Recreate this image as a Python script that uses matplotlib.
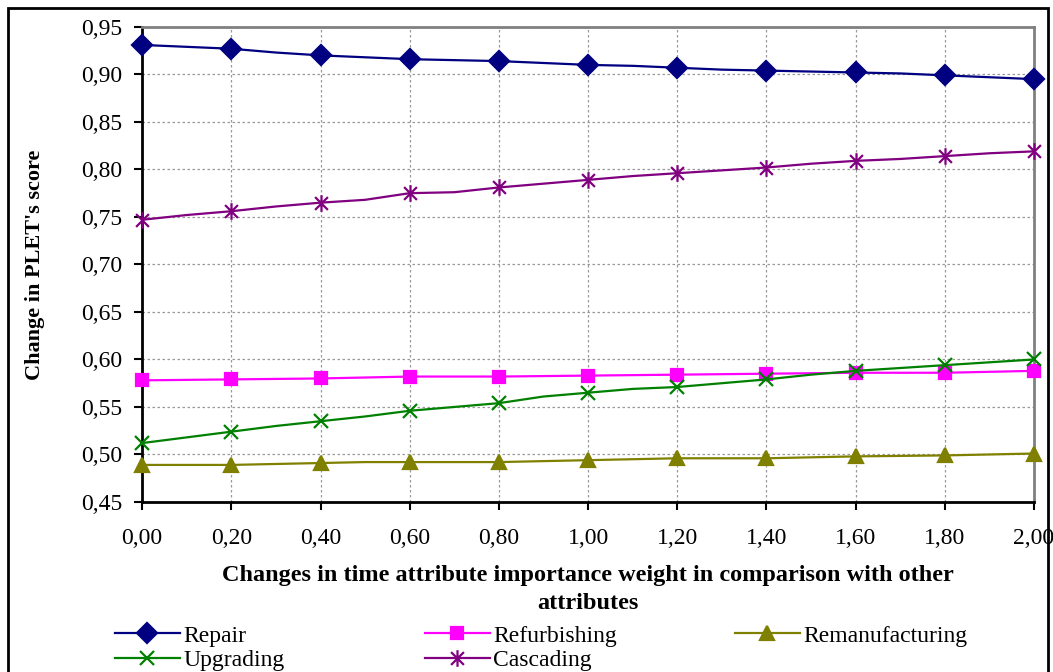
import matplotlib
matplotlib.use("Agg")
import matplotlib.pyplot as plt
from matplotlib.path import Path
from matplotlib.patches import Rectangle

plt.rcParams['font.family'] = ['Liberation Serif', 'DejaVu Serif']

# weights 0.0 .. 2.0 step 0.1 (markers only every 0.2)
weights = [0.0, 0.1, 0.2, 0.3, 0.4, 0.5, 0.6, 0.7, 0.8, 0.9, 1.0,
           1.1, 1.2, 1.3, 1.4, 1.5, 1.6, 1.7, 1.8, 1.9, 2.0]
repair = [0.931, 0.929, 0.927, 0.923, 0.920, 0.918, 0.916, 0.915, 0.914, 0.912, 0.910,
          0.909, 0.907, 0.905, 0.904, 0.903, 0.902, 0.901, 0.899, 0.897, 0.895]
refurbishing = [0.578, 0.5785, 0.579, 0.5795, 0.580, 0.581, 0.582, 0.582, 0.582, 0.5825, 0.583,
                0.5835, 0.584, 0.5845, 0.585, 0.5855, 0.586, 0.586, 0.586, 0.587, 0.588]
remanufacturing = [0.489, 0.489, 0.489, 0.490, 0.491, 0.492, 0.492, 0.492, 0.492, 0.493, 0.494,
                   0.495, 0.496, 0.496, 0.496, 0.497, 0.498, 0.4985, 0.499, 0.500, 0.501]
upgrading = [0.512, 0.518, 0.524, 0.530, 0.535, 0.540, 0.546, 0.550, 0.554, 0.561, 0.565,
             0.569, 0.571, 0.575, 0.579, 0.584, 0.588, 0.591, 0.594, 0.597, 0.600]
cascading = [0.747, 0.752, 0.756, 0.761, 0.765, 0.768, 0.775, 0.776, 0.781, 0.785, 0.789,
             0.793, 0.796, 0.799, 0.802, 0.806, 0.809, 0.811, 0.814, 0.817, 0.819]

x_ticks = [0.0, 0.2, 0.4, 0.6, 0.8, 1.0, 1.2, 1.4, 1.6, 1.8, 2.0]
x_labels = ["0,00", "0,20", "0,40", "0,60", "0,80", "1,00", "1,20", "1,40", "1,60", "1,80", "2,00"]
y_ticks = [0.45, 0.50, 0.55, 0.60, 0.65, 0.70, 0.75, 0.80, 0.85, 0.90, 0.95]
y_labels = ["0,45", "0,50", "0,55", "0,60", "0,65", "0,70", "0,75", "0,80", "0,85", "0,90", "0,95"]

# excel style asterisk: x plus vertical bar
asterisk = Path([(-1, -1), (1, 1), (-1, 1), (1, -1), (0, -1.3), (0, 1.3)],
                [Path.MOVETO, Path.LINETO, Path.MOVETO, Path.LINETO, Path.MOVETO, Path.LINETO])

fig = plt.figure(figsize=(10.53, 6.72), dpi=100)
ax = fig.add_axes([0.135, 0.253, 0.847, 0.707])

lines = {}
series = [
    ("Repair", repair, "#000080", "D", 10),
    ("Refurbishing", refurbishing, "#FF00FF", "s", 9),
    ("Remanufacturing", remanufacturing, "#808000", "^", 10),
    ("Upgrading", upgrading, "#008000", "x", 10),
    ("Cascading", cascading, "#800080", asterisk, 12),
]
for name, vals, col, mk, ms in series:
    lines[name], = ax.plot(weights, vals, color=col, lw=1.6, marker=mk, markersize=ms,
                           markevery=2, markeredgewidth=1.6, label=name, clip_on=False, zorder=3)

ax.set_xlim(0, 2)
ax.set_ylim(0.45, 0.95)
ax.set_xticks(x_ticks)
ax.set_xticklabels(x_labels)
ax.set_yticks(y_ticks)
ax.set_yticklabels(y_labels)
ax.tick_params(axis='both', labelsize=17, direction='out', length=6, width=1.5)
ax.tick_params(axis='x', pad=13)
ax.tick_params(axis='y', pad=8)
ax.grid(True, color='#999999', linestyle=(0, (2, 2)), linewidth=0.9)
ax.set_axisbelow(True)

for s in ['left', 'bottom']:
    ax.spines[s].set_color('black')
    ax.spines[s].set_linewidth(2)
for s in ['top', 'right']:
    ax.spines[s].set_color('#808080')
    ax.spines[s].set_linewidth(2)

ax.set_xlabel("Changes in time attribute importance weight in comparison with other\nattributes",
              fontsize=17.5, fontweight='bold', labelpad=11, linespacing=1.45)
ax.set_ylabel("Change in PLET's score", fontsize=16, fontweight='bold', labelpad=26)

# three legend columns placed like the original
groups = [(["Repair", "Upgrading"], 115), (["Refurbishing", "Cascading"], 425),
          (["Remanufacturing"], 735)]
for names, xpix in groups:
    fig.legend([lines[n] for n in names], names, loc='upper left',
               bbox_to_anchor=(xpix / 1053, 1 - 625 / 672), frameon=False,
               fontsize=17, handlelength=2.75, handletextpad=0.15,
               labelspacing=0.12, borderpad=0, borderaxespad=0)

fig.patches.append(Rectangle((8 / 1053, -0.1), 1040 / 1053, 1.1 - 8 / 672,
                             transform=fig.transFigure, fill=False, edgecolor='black',
                             linewidth=2))

fig.savefig("out.png", dpi=100)
